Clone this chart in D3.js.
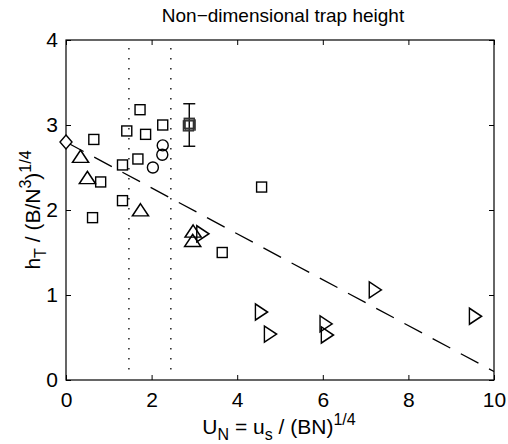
<!DOCTYPE html>
<html>
<head>
<meta charset="utf-8">
<script src="https://cdn.jsdelivr.net/npm/d3@7"></script>
<style>
  body { margin: 0; background: #fff; }
  text { font-family: "Liberation Sans", Arial, sans-serif; fill: #000; }
</style>
</head>
<body>
<div id="chart"></div>
<script>
// Chart data
const squareX = [0.65, 0.62, 0.81, 1.32, 1.32, 1.42, 1.73, 1.68, 1.86, 2.26, 3.65, 4.57];
const squareY = [2.83, 1.91, 2.33, 2.53, 2.11, 2.93, 3.18, 2.60, 2.89, 3.00, 1.50, 2.27];
const circleX = [2.26, 2.25, 2.03];
const circleY = [2.76, 2.65, 2.50];
const triUpX = [0.34, 0.50, 1.74, 2.97, 2.96];
const triUpY = [2.62, 2.37, 1.99, 1.74, 1.63];
const triRightX = [3.15, 4.52, 4.73, 6.03, 6.06, 7.18, 9.52];
const triRightY = [1.72, 0.80, 0.54, 0.66, 0.53, 1.06, 0.75];
const diamondX = [0];
const diamondY = [2.80];
// mean point with error bar (several overlapping squares)
const meanX = [2.86, 2.88, 2.90];
const meanY = [2.99, 3.02, 3.00];
const errX = 2.88, errLo = 2.75, errHi = 3.25;
// dashed fit line end points and dotted vertical lines
const fitX = [0, 10];
const fitY = [2.8, 0.1];
const dottedX = [1.47, 2.45];
const xTicks = [0, 2, 4, 6, 8, 10];
const yTicks = [0, 1, 2, 3, 4];

const width = 508, height = 444;
const margin = {top: 40, right: 14, bottom: 64, left: 66};
const iw = width - margin.left - margin.right;
const ih = height - margin.top - margin.bottom;

const svg = d3.select("#chart").append("svg")
  .attr("width", width)
  .attr("height", height);

const x = d3.scaleLinear().domain([0, 10]).range([0, iw]);
const y = d3.scaleLinear().domain([0, 4]).range([ih, 0]);

const g = svg.append("g").attr("transform", `translate(${margin.left},${margin.top})`);

// frame
g.append("rect").attr("width", iw).attr("height", ih)
  .attr("fill", "none").attr("stroke", "#000").attr("stroke-width", 1.2);

// axes with inward ticks
const tickLen = 5;
g.append("g").attr("transform", `translate(0,${ih})`)
  .call(d3.axisBottom(x).tickValues(xTicks).tickFormat(d3.format("d")).tickSizeInner(-tickLen).tickSizeOuter(0).tickPadding(12))
  .call(a => a.select(".domain").remove())
  .call(a => a.selectAll("text").attr("font-size", 21).attr("dy", "0.71em"));
g.append("g")
  .call(d3.axisTop(x).tickValues(xTicks).tickSizeInner(-tickLen).tickSizeOuter(0).tickFormat(""))
  .call(a => a.select(".domain").remove());
g.append("g")
  .call(d3.axisLeft(y).tickValues(yTicks).tickFormat(d3.format("d")).tickSizeInner(-tickLen).tickSizeOuter(0).tickPadding(8))
  .call(a => a.select(".domain").remove())
  .call(a => a.selectAll("text").attr("font-size", 21));
g.append("g").attr("transform", `translate(${iw},0)`)
  .call(d3.axisRight(y).tickValues(yTicks).tickSizeInner(-tickLen).tickSizeOuter(0).tickFormat(""))
  .call(a => a.select(".domain").remove());

// dotted vertical lines
g.selectAll(".dotted").data(dottedX).enter().append("line")
  .attr("x1", d => x(d)).attr("x2", d => x(d))
  .attr("y1", y(4) + 8).attr("y2", y(0) - 4)
  .attr("stroke", "#000").attr("stroke-width", 1.3)
  .attr("stroke-dasharray", "1.5,8.5");

// dashed fit line
g.append("line")
  .attr("x1", x(fitX[0])).attr("y1", y(fitY[0]))
  .attr("x2", x(fitX[1])).attr("y2", y(fitY[1]))
  .attr("stroke", "#000").attr("stroke-width", 1.3)
  .attr("stroke-dasharray", "20,12");

const mk = {fill: "none", stroke: "#000", sw: 1.4};

function pts(xs, ys) { return xs.map((d, i) => [d, ys[i]]); }

// squares
g.selectAll(".sq").data(pts(squareX, squareY)).enter().append("rect")
  .attr("x", d => x(d[0]) - 5).attr("y", d => y(d[1]) - 5)
  .attr("width", 10).attr("height", 10)
  .attr("fill", mk.fill).attr("stroke", mk.stroke).attr("stroke-width", mk.sw);

// circles
g.selectAll(".ci").data(pts(circleX, circleY)).enter().append("circle")
  .attr("cx", d => x(d[0])).attr("cy", d => y(d[1])).attr("r", 5.5)
  .attr("fill", mk.fill).attr("stroke", mk.stroke).attr("stroke-width", mk.sw);

// upward triangles
const triUp = d3.symbol().type(d3.symbolTriangle).size(85);
g.selectAll(".tu").data(pts(triUpX, triUpY)).enter().append("path")
  .attr("d", triUp)
  .attr("transform", d => `translate(${x(d[0])},${y(d[1]) + 1}) scale(1.15,1)`)
  .attr("fill", mk.fill).attr("stroke", mk.stroke).attr("stroke-width", mk.sw);

// right triangles
g.selectAll(".tr").data(pts(triRightX, triRightY)).enter().append("path")
  .attr("d", triUp)
  .attr("transform", d => `translate(${x(d[0])},${y(d[1])}) rotate(90) scale(1.15,1)`)
  .attr("fill", mk.fill).attr("stroke", mk.stroke).attr("stroke-width", mk.sw);

// diamond
g.selectAll(".di").data(pts(diamondX, diamondY)).enter().append("path")
  .attr("d", "M0,-7L6,0L0,7L-6,0Z")
  .attr("transform", d => `translate(${x(d[0])},${y(d[1])})`)
  .attr("fill", "#fff").attr("stroke", mk.stroke).attr("stroke-width", mk.sw);

// error bar
g.append("line").attr("x1", x(errX)).attr("x2", x(errX))
  .attr("y1", y(errLo)).attr("y2", y(errHi)).attr("stroke", "#000").attr("stroke-width", 1.4);
[errLo, errHi].forEach(v => g.append("line")
  .attr("x1", x(errX) - 6).attr("x2", x(errX) + 6)
  .attr("y1", y(v)).attr("y2", y(v)).attr("stroke", "#000").attr("stroke-width", 1.4));
g.selectAll(".mean").data(pts(meanX, meanY)).enter().append("rect")
  .attr("x", d => x(d[0]) - 5).attr("y", d => y(d[1]) - 5)
  .attr("width", 10).attr("height", 10)
  .attr("fill", "none").attr("stroke", "#333").attr("stroke-width", 1.4);

// title
svg.append("text").attr("x", 283).attr("y", 22).attr("text-anchor", "middle")
  .attr("font-size", 19).text("Non\u2212dimensional trap height");

// x label
const xl = svg.append("text").attr("x", 279).attr("y", 434).attr("text-anchor", "middle")
  .attr("font-size", 21);
xl.append("tspan").text("U");
xl.append("tspan").attr("font-size", 16).attr("dy", 6).text("N");
xl.append("tspan").attr("dy", -6).text(" = u");
xl.append("tspan").attr("font-size", 16).attr("dy", 6).text("s");
xl.append("tspan").attr("dy", -6).text(" / (BN)");
xl.append("tspan").attr("font-size", 16).attr("dy", -9).text("1/4");

// y label
const yl = svg.append("text").attr("transform", "translate(40,210) rotate(-90)")
  .attr("text-anchor", "middle").attr("font-size", 21);
yl.append("tspan").text("h");
yl.append("tspan").attr("font-size", 16).attr("dy", 6).text("T");
yl.append("tspan").attr("dy", -6).text(" / (B/N");
yl.append("tspan").attr("font-size", 16).attr("dy", -9).text("3");
yl.append("tspan").attr("dy", 9).text(")");
yl.append("tspan").attr("font-size", 16).attr("dy", -9).text("1/4");
</script>
</body>
</html>
